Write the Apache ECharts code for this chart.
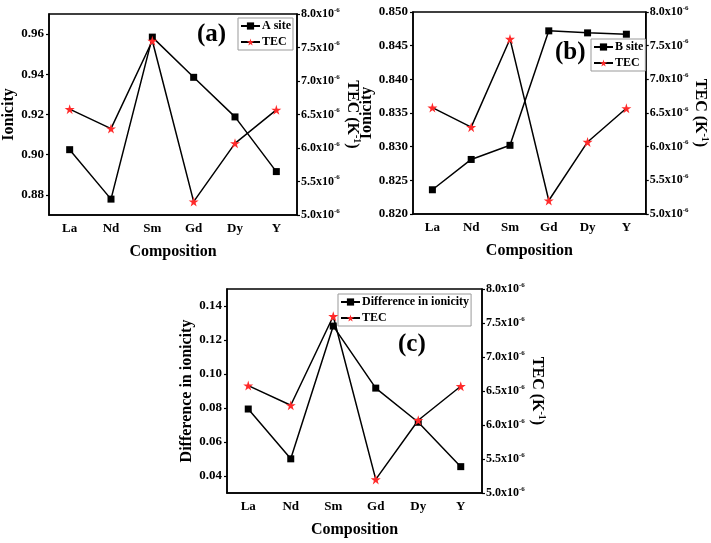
<!DOCTYPE html>
<html>
<head>
<meta charset="utf-8">
<script src="https://cdn.jsdelivr.net/npm/echarts@6/dist/echarts.min.js"></script>
<style>html,body{margin:0;padding:0;background:#fff;}#c{width:711px;height:543px;}</style>
</head>
<body>
<div id="c"></div>
<script>
// ---- data ----
const categories = ['La', 'Nd', 'Sm', 'Gd', 'Dy', 'Y'];
const aSite = [0.9025, 0.8779, 0.9585, 0.9385, 0.9188, 0.8916];
const bSite = [0.8236, 0.8281, 0.8302, 0.8472, 0.8469, 0.8467];
const diffIonicity = [0.0794, 0.0501, 0.1282, 0.0917, 0.0716, 0.0455];
const tec = [6.58, 6.29, 7.60, 5.20, 6.07, 6.57]; // in units of 1e-6 K^-1
const aTicks = [0.88, 0.90, 0.92, 0.94, 0.96];
const bTicks = [0.820, 0.825, 0.830, 0.835, 0.840, 0.845, 0.850];
const cTicks = [0.04, 0.06, 0.08, 0.10, 0.12, 0.14];
const tecTicks = [5.0, 5.5, 6.0, 6.5, 7.0, 7.5, 8.0];

const FONT = 'Liberation Serif';
const STAR = 'path://M50,0 L61,35 L98,35 L68,57 L79,91 L50,70 L21,91 L32,57 L2,35 L39,35 Z';

const grids = [
  {left: 47, top: 14, width: 250, height: 201},
  {left: 413, top: 12, width: 238, height: 202},
  {left: 227, top: 289, width: 255, height: 204}
];

function xAxis(i) {
  return {
    type: 'category', gridIndex: i, data: categories, boundaryGap: true,
    name: 'Composition', nameLocation: 'middle', nameGap: 29,
    nameTextStyle: {fontFamily: FONT, fontWeight: 'bold', fontSize: 16, color: '#000'},
    axisLine: {lineStyle: {color: '#000', width: 1.5}},
    axisTick: {alignWithLabel: true, length: 3, lineStyle: {color: '#000', width: 1.2}},
    axisLabel: {fontFamily: FONT, fontWeight: 'bold', fontSize: 13, color: '#000', margin: 7},
    splitLine: {show: false}
  };
}
function leftAxis(i, name, min, max, ticks, digits, gap) {
  return {
    type: 'value', gridIndex: i, position: 'left', min: min, max: max,
    name: name, nameLocation: 'middle', nameGap: gap,
    nameTextStyle: {fontFamily: FONT, fontWeight: 'bold', fontSize: 16, color: '#000'},
    axisLine: {show: true, lineStyle: {color: '#000', width: 1.5}},
    axisTick: {show: true, length: 3, customValues: ticks, lineStyle: {color: '#000', width: 1.2}},
    axisLabel: {customValues: ticks, fontFamily: FONT, fontWeight: 'bold', fontSize: 13, color: '#000', margin: 5,
      formatter: v => v.toFixed(digits)},
    splitLine: {show: false}
  };
}
function rightAxis(i, gap) {
  return {
    type: 'value', gridIndex: i, position: 'right', min: 5, max: 8, interval: 0.5,
    name: '{t|TEC (K}{s|-1}{t|)}', nameLocation: 'middle', nameGap: gap, nameRotate: -90,
    nameTextStyle: {rich: {
      t: {fontFamily: FONT, fontWeight: 'bold', fontSize: 16, color: '#000'},
      s: {fontFamily: FONT, fontWeight: 'bold', fontSize: 10, color: '#000', padding: [0, 0, 9, 0]}
    }},
    axisLine: {show: true, lineStyle: {color: '#000', width: 1.5}},
    axisTick: {show: true, length: 3, lineStyle: {color: '#000', width: 1.2}},
    axisLabel: {margin: 4, formatter: v => '{a|' + v.toFixed(1) + 'x10}{s|-6}',
      rich: {
        a: {fontFamily: FONT, fontWeight: 'bold', fontSize: 12, color: '#000'},
        s: {fontFamily: FONT, fontWeight: 'bold', fontSize: 7, color: '#000', padding: [0, 0, 8, 0]}
      }},
    splitLine: {show: false}
  };
}
function squareSeries(name, data, i) {
  return {
    name: name, type: 'line', xAxisIndex: i, yAxisIndex: 2 * i, data: data,
    symbol: 'rect', symbolSize: 7, showSymbol: true,
    lineStyle: {color: '#000', width: 1.5}, itemStyle: {color: '#000'}, z: 3
  };
}
function tecSeries(i) {
  return {
    name: 'TEC', type: 'line', xAxisIndex: i, yAxisIndex: 2 * i + 1, data: tec,
    symbol: STAR, symbolSize: 10,
    lineStyle: {color: '#000', width: 1.5}, itemStyle: {color: '#ff2a2a'}, z: 4
  };
}
function legend(data, left, top) {
  return {
    orient: 'vertical', left: left, top: top, data: data,
    backgroundColor: '#fff', borderColor: '#999', borderWidth: 1,
    padding: [2, 2, 2, 2], itemGap: 4, itemWidth: 19, itemHeight: 9,
    selectedMode: false,
    textStyle: {fontFamily: FONT, fontWeight: 'bold', fontSize: 12, color: '#000', padding: [0, 0, 0, -3]}
  };
}

const option = {
  animation: false,
  backgroundColor: '#fff',
  grid: grids.map(g => Object.assign({show: true, borderColor: '#000', borderWidth: 1.5, backgroundColor: 'transparent'}, g)),
  xAxis: [xAxis(0), xAxis(1), xAxis(2)],
  yAxis: [
    leftAxis(0, 'Ionicity', 0.87, 0.97, aTicks, 2, 32), rightAxis(0, 45),
    leftAxis(1, 'Ionicity', 0.82, 0.85, bTicks, 3, 32), rightAxis(1, 45),
    leftAxis(2, 'Difference in ionicity', 0.03, 0.15, cTicks, 2, 31), rightAxis(2, 42)
  ],
  legend: [
    legend(['A site', 'TEC'], 238, 18),
    legend(['B site', 'TEC'], 591, 39),
    legend(['Difference in ionicity', 'TEC'], 338, 294)
  ],
  series: [
    squareSeries('A site', aSite, 0), tecSeries(0),
    squareSeries('B site', bSite, 1), tecSeries(1),
    squareSeries('Difference in ionicity', diffIonicity, 2), tecSeries(2)
  ],
  graphic: [
    {type: 'text', left: 197, top: 22, style: {text: '(a)', font: 'bold 25px "Liberation Serif"', fill: '#000'}},
    {type: 'text', left: 555, top: 40, style: {text: '(b)', font: 'bold 25px "Liberation Serif"', fill: '#000'}},
    {type: 'text', left: 398, top: 332, style: {text: '(c)', font: 'bold 25px "Liberation Serif"', fill: '#000'}}
  ]
};
echarts.init(document.getElementById('c')).setOption(option);
</script>
</body>
</html>
